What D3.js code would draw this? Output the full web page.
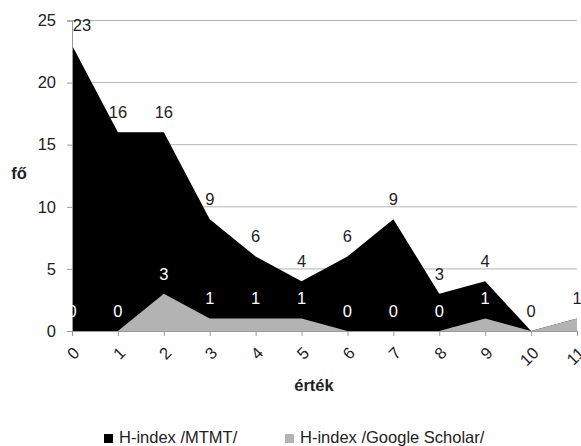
<!DOCTYPE html>
<html>
<head>
<meta charset="utf-8">
<title>H-index</title>
<script src="https://cdn.jsdelivr.net/npm/d3@7"></script>
<style>
  body { margin: 0; background: #fff; }
  text { font-family: "Liberation Sans", Arial, sans-serif; }
</style>
</head>
<body>
<script>
var categories = [0, 1, 2, 3, 4, 5, 6, 7, 8, 9, 10, 11];
var mtmt = [23, 16, 16, 9, 6, 4, 6, 9, 3, 4, 0, 1];
var scholar = [0, 0, 3, 1, 1, 1, 0, 0, 0, 1, 0, 1];
var yTicks = [0, 5, 10, 15, 20, 25];
var seriesNames = ["H-index /MTMT/", "H-index /Google Scholar/"];

var width = 581, height = 446;
var fs = 16.5;
var svg = d3.select("body").append("svg")
    .attr("width", width).attr("height", height);

var x = d3.scaleLinear().domain([0, 11]).range([72, 577]);
var y = d3.scaleLinear().domain([0, 25]).range([331, 20.5]);

// gridlines
svg.selectAll(".grid").data(yTicks.slice(1)).enter().append("line")
    .attr("x1", x(0)).attr("x2", x(11))
    .attr("y1", d => y(d)).attr("y2", d => y(d))
    .attr("stroke", "#b3b3b3").attr("stroke-width", 1);

var area = d3.area()
    .x((d, i) => x(categories[i]))
    .y0(y(0))
    .y1(d => y(d));

svg.append("path").attr("d", area(mtmt)).attr("fill", "#000");
svg.append("path").attr("d", area(scholar)).attr("fill", "#b3b3b3");

// axes
var yAxis = svg.append("g").attr("transform", "translate(" + x(0) + ",0)")
    .call(d3.axisLeft(y).tickValues(yTicks).tickSize(5));
yAxis.select(".domain").attr("stroke", "#999");
yAxis.selectAll(".tick line").attr("stroke", "#999");
yAxis.selectAll("text").attr("font-size", fs).attr("fill", "#222").attr("x", -16)
    .attr("font-family", "Liberation Sans, Arial, sans-serif");

var xAxis = svg.append("g").attr("transform", "translate(0," + y(0) + ")")
    .call(d3.axisBottom(x).tickValues(categories).tickSize(5).tickSizeOuter(0));
xAxis.select(".domain").attr("stroke", "#999");
xAxis.selectAll(".tick line").attr("stroke", "#999");
xAxis.selectAll("text")
    .attr("font-size", fs).attr("fill", "#222")
    .attr("font-family", "Liberation Sans, Arial, sans-serif")
    .attr("text-anchor", "end")
    .attr("x", 0).attr("y", 0).attr("dy", "0.35em")
    .attr("transform", "translate(4,19) rotate(-45)");

// data labels (grey series first so the dark ones stay on top)
svg.selectAll(".lbl2").data(scholar).enter().append("text")
    .attr("x", (d, i) => x(categories[i]))
    .attr("y", d => y(d) - 20)
    .attr("dy", "0.35em")
    .attr("text-anchor", "middle")
    .attr("font-size", fs).attr("fill", "#fff")
    .text(d => d);

svg.selectAll(".lbl1").data(mtmt).enter().append("text")
    .attr("x", (d, i) => Math.max(x(categories[i]), x(0) + 10))
    .attr("y", d => y(d) - 20)
    .attr("dy", "0.35em")
    .attr("text-anchor", "middle")
    .attr("font-size", fs).attr("fill", "#222")
    .text(d => d);

// axis titles
svg.append("text").attr("x", 19).attr("y", 179).attr("text-anchor", "middle")
    .attr("font-size", fs).attr("font-weight", "bold").attr("fill", "#222").text("fő");
svg.append("text").attr("x", 314).attr("y", 391).attr("text-anchor", "middle")
    .attr("font-size", fs).attr("font-weight", "bold").attr("fill", "#222").text("érték");

// legend
var legendX = [104, 285];
var colors = ["#000", "#b3b3b3"];
seriesNames.forEach(function(name, i) {
    svg.append("rect").attr("x", legendX[i]).attr("y", 434)
        .attr("width", 9).attr("height", 9).attr("fill", colors[i]);
    svg.append("text").attr("x", legendX[i] + 15).attr("y", 443)
        .attr("font-size", fs).attr("fill", "#222").text(name);
});
</script>
</body>
</html>
